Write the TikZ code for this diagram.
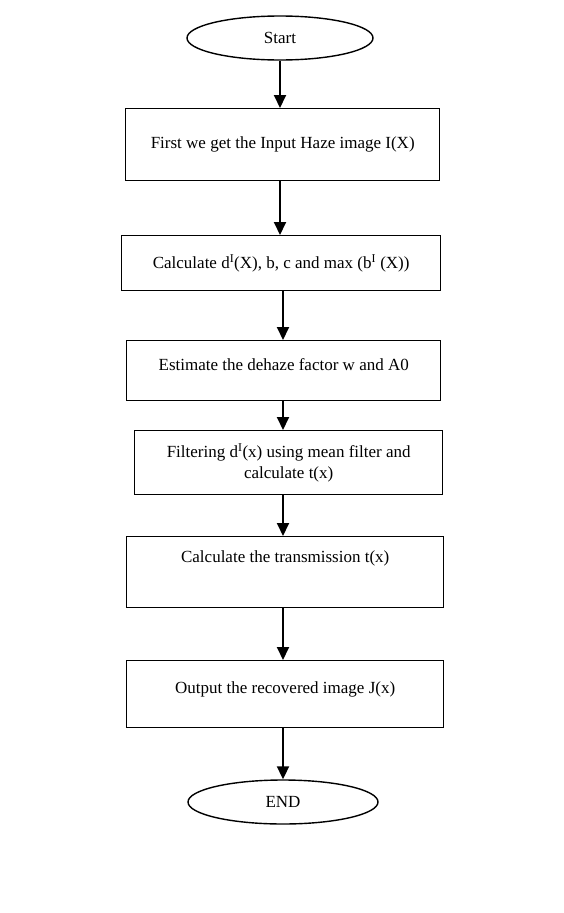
\documentclass[tikz,border=0pt]{standalone}
\usepackage{fontspec}
\setmainfont{Liberation Serif}
\usetikzlibrary{arrows.meta,shapes.geometric}
\begin{document}
\begin{tikzpicture}[x=1pt,y=-1pt,
  txt/.style={font=\fontsize{17}{21}\selectfont},
  box/.style={draw, line width=1.4pt, align=center, txt, inner sep=0pt, anchor=north west},
  oval/.style={draw, ellipse, line width=1.4pt, txt, inner sep=0pt},
  arr/.style={line width=1.9pt, -{Triangle[length=13pt,width=12pt]}}]
\useasboundingbox (0,0) rectangle (563,913);
\node[oval, minimum width=186, minimum height=44] (start) at (280,38) {Start};
\node[box, minimum width=314, minimum height=72] (b1) at (125,108) {First we get the Input Haze image I(X)};
\node[box, minimum width=319, minimum height=55] (b2) at (121,235) {Calculate d\textsuperscript{I}(X), b, c and max (b\textsuperscript{I} (X))};
\node[box, minimum width=314, minimum height=60, text depth=12pt] (b3) at (126,340) {Estimate the dehaze factor w and A0};
\node[box, minimum width=308, minimum height=64] (b4) at (134,430) {Filtering d\textsuperscript{I}(x) using mean filter and\\calculate t(x)};
\node[box, minimum width=317, minimum height=71, text depth=32pt] (b5) at (126,536) {Calculate the transmission t(x)};
\node[box, minimum width=317, minimum height=67, text depth=14pt] (b6) at (126,660) {Output the recovered image J(x)};
\node[oval, minimum width=190, minimum height=44] (end) at (283,802) {END};
\draw[arr] (start.south -| 280,0) -- (b1.north -| 280,0);
\draw[arr] (b1.south -| 280,0) -- (b2.north -| 280,0);
\draw[arr] (b2.south -| 283,0) -- (b3.north -| 283,0);
\draw[arr] (b3.south -| 283,0) -- (b4.north -| 283,0);
\draw[arr] (b4.south -| 283,0) -- (b5.north -| 283,0);
\draw[arr] (b5.south -| 283,0) -- (b6.north -| 283,0);
\draw[arr] (b6.south -| 283,0) -- (end.north -| 283,0);
\end{tikzpicture}
\end{document}
